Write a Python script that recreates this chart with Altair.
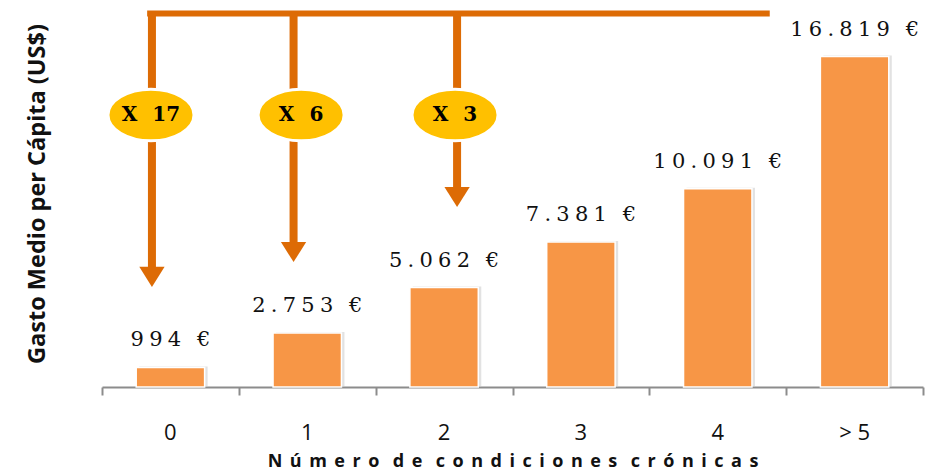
import altair as alt
import pandas as pd

# ---- data ----
categories = ["0", "1", "2", "3", "4", "> 5"]
values = [994, 2753, 5062, 7381, 10091, 16819]

# annotation (arrows + multiplier badges), x in band units (0..6), y in data units
mult_labels = ["X 17", "X 6", "X 3"]
arrow_x = [0.365, 1.40, 2.595]
badge_x = [0.358, 1.455, 2.58]
shaft_top = [19060, 19060, 19060]
shaft_bottom = [6058, 7381, 10130]
head_y = [5600, 6872, 9672]
badge_y = [13846, 13846, 13846]
bracket_x = [0.33, 4.88]
bracket_y = [19013, 19013]
band_edges = [0, 1, 2, 3, 4, 5, 6]

BAR = "#F79646"
ARROW = "#DD6B05"
BADGE = "#FFC000"
AXIS = "#8c8c8c"


def fmt(v):
    s = f"{v:,}".replace(",", ".")
    return "\u2005".join(list(s)) + "\u2002\u2005€"


bars = pd.DataFrame({"cat": categories, "val": values,
                     "label": [fmt(v) for v in values]})
arrows = pd.DataFrame({"x": arrow_x, "top": shaft_top, "bottom": shaft_bottom,
                       "head": head_y})
badges = pd.DataFrame({"x": badge_x, "y": badge_y,
                       "t": [t.replace(" ", "\u2002\u2005") for t in mult_labels]})
bracket = pd.DataFrame({"x": [bracket_x[0]], "x2": [bracket_x[1]], "y": [bracket_y[0]]})

yscale = alt.Scale(domain=[0, 19700], nice=False, zero=True)
xband = alt.Scale(paddingInner=0.5, paddingOuter=0.25)
xlin = alt.Scale(domain=[0, 6], nice=False, zero=False)

title_x = "\u2002\u2005".join(["\u2005\u2006".join(list(w))
                              for w in "Número de condiciones crónicas".split()])

xaxis = alt.Axis(title=title_x, labelAngle=0, ticks=False, domain=False, grid=False,
                 orient="bottom",
                 labelFont="Open Sans", labelFontSize=22, labelColor="#111111",
                 labelPadding=35,
                 titleFont="Open Sans", titleFontSize=18, titleFontWeight="bold",
                 titleColor="#111111", titlePadding=9)
# axis line and ticks at the band boundaries
xedge_axis = alt.Axis(values=band_edges, labels=False, title=None, grid=False,
                      orient="bottom",
                      domain=True, domainColor=AXIS, domainWidth=2,
                      ticks=True, tickColor=AXIS, tickWidth=2, tickSize=8)
yaxis = alt.Axis(title="Gasto Medio per Cápita (US$)", labels=False, ticks=False,
                 domain=False, grid=False,
                 titleFont="Open Sans", titleFontSize=23.5, titleFontWeight="bold",
                 titleColor="#111111", titlePadding=53)

X = alt.X("cat:N", sort=categories, scale=xband, axis=xaxis)

shadow = alt.Chart(bars).mark_bar(color="#cfcfcf", opacity=0.6, xOffset=3, yOffset=-1).encode(
    x=X, y=alt.Y("val:Q", scale=yscale, axis=yaxis),
)

bar = alt.Chart(bars).mark_bar(color=BAR, stroke="white", strokeWidth=1.5).encode(
    x=X, y=alt.Y("val:Q", scale=yscale, axis=yaxis),
)

labels = alt.Chart(bars).mark_text(font="DejaVu Serif", fontSize=21, color="#111111",
                                   baseline="alphabetic", dy=-21).encode(
    x=X, y=alt.Y("val:Q", scale=yscale, axis=yaxis),
    text="label:N",
)

bar_layer = alt.layer(shadow, bar, labels)

XL = lambda f: alt.X(f, scale=xlin, axis=xedge_axis)

line = alt.Chart(bracket).mark_rule(color=ARROW, strokeWidth=6).encode(
    x=XL("x:Q"), x2="x2:Q",
    y=alt.Y("y:Q", scale=yscale, axis=yaxis),
)

shafts = alt.Chart(arrows).mark_rule(color=ARROW, strokeWidth=8, strokeCap="butt").encode(
    x=XL("x:Q"),
    y=alt.Y("top:Q", scale=yscale, axis=yaxis), y2="bottom:Q",
)

heads = alt.Chart(arrows).mark_point(shape="M-1,-0.8L1,-0.8L0,0.8Z", size=640, filled=True,
                                     color=ARROW, opacity=1).encode(
    x=XL("x:Q"),
    y=alt.Y("head:Q", scale=yscale, axis=yaxis),
)

ellipses = alt.Chart(badges).mark_point(
    shape="M-1,0A1,0.6,0,1,1,1,0A1,0.6,0,1,1,-1,0Z", size=7400, filled=True,
    fill=BADGE, stroke="white", strokeWidth=3, opacity=1).encode(
    x=XL("x:Q"),
    y=alt.Y("y:Q", scale=yscale, axis=yaxis),
)

badge_text = alt.Chart(badges).mark_text(font="DejaVu Serif", fontWeight="bold", fontSize=20,
                                         color="black", baseline="middle").encode(
    x=XL("x:Q"),
    y=alt.Y("y:Q", scale=yscale, axis=yaxis),
    text="t:N",
)

annot = alt.layer(line, shafts, heads, ellipses, badge_text)

chart = alt.layer(bar_layer, annot).resolve_scale(x="independent").properties(
    width=821, height=387,
    autosize=alt.AutoSizeParams(type="none"),
    padding={"left": 102, "top": 0, "right": 15, "bottom": 85},
    background="white",
).configure_view(stroke=None)

chart.save("out.html", embed_options={"renderer": "svg", "actions": False})
